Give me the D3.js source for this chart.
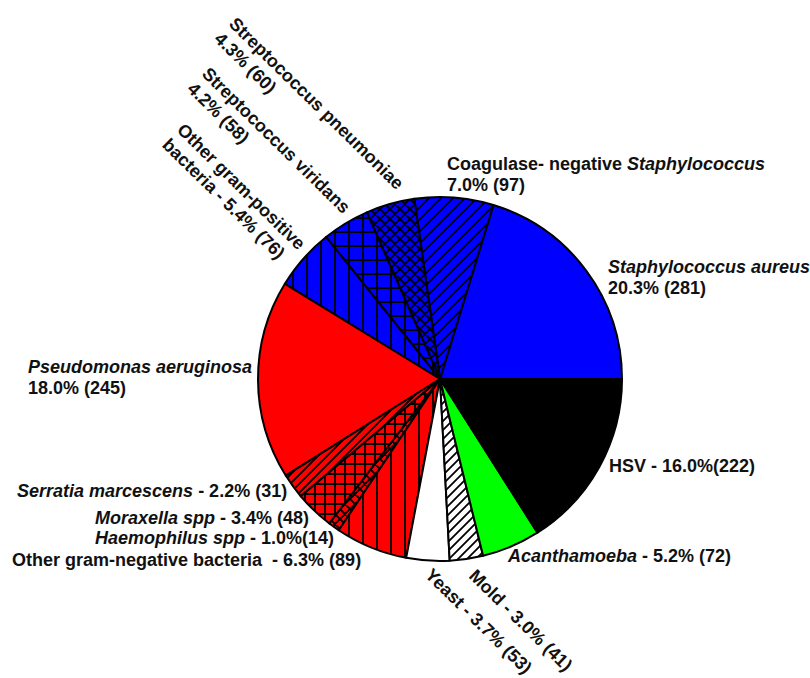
<!DOCTYPE html>
<html>
<head>
<meta charset="utf-8">
<script src="https://cdn.jsdelivr.net/npm/d3@7"></script>
<style>
body { margin: 0; background: #fff; }
#vis { width: 810px; height: 678px; }
text { font-family: "Liberation Sans", Arial, sans-serif; font-weight: bold; font-size: 18px; fill: #111; }
</style>
</head>
<body>
<div id="vis"></div>
<script>
// slices, counter-clockwise from 3 o'clock
var categories = ['Staphylococcus aureus', 'Coagulase-negative Staphylococcus', 'Streptococcus pneumoniae',
    'Streptococcus viridans', 'Other gram-positive bacteria', 'Pseudomonas aeruginosa', 'Serratia marcescens',
    'Moraxella spp', 'Haemophilus spp', 'Other gram-negative bacteria', 'Yeast', 'Mold', 'Acanthamoeba', 'HSV'];
var counts = [281, 97, 60, 58, 76, 245, 31, 48, 14, 89, 53, 41, 72, 222];

// label text, *...* = italic
var labelLines = [
    ['*Staphylococcus aureus*', '20.3% (281)'],
    ['Coagulase- negative *Staphylococcus*', '7.0% (97)'],
    ['Streptococcus pneumoniae', '4.3% (60)'],
    ['Streptococcus viridans', '4.2% (58)'],
    ['Other gram-positive', 'bacteria - 5.4% (76)'],
    ['*Pseudomonas aeruginosa*', '18.0% (245)'],
    ['*Serratia marcescens* - 2.2% (31)'],
    ['*Moraxella spp* - 3.4% (48)'],
    ['*Haemophilus spp* - 1.0%(14)'],
    ['Other gram-negative bacteria  - 6.3% (89)'],
    ['Yeast - 3.7% (53)'],
    ['Mold - 3.0% (41)'],
    ['*Acanthamoeba* - 5.2% (72)'],
    ['HSV - 16.0%(222)']
];

// layout: label anchor [x, y, rotation]
var labelPos = [
    [608, 273, 0], [447, 170, 0], [228, 25, 44.5], [201, 75, 44.5], [176, 131, 44.5],
    [28, 373, 0], [17, 497, 0], [95, 524, 0], [95, 544, 0], [12, 566, 0],
    [424, 576, 44.5], [468, 577, 44.5], [508, 562, 0], [609, 472, 0]
];

// fill styles: [background, hatch]
var fillStyles = [
    ['#0000ff', null], ['#0000ff', 'diag'], ['#0000ff', 'xdiag'], ['#0000ff', 'grid'], ['#0000ff', 'vert'],
    ['#ff0000', null], ['#ff0000', 'diagS'], ['#ff0000', 'gridS'], ['#ff0000', 'xdiag'], ['#ff0000', 'vert'],
    ['#ffffff', null], ['#ffffff', 'diagS'], ['#00ff00', null], ['#000000', null]
];

var width = 810, height = 678;
var cx = 440, cy = 379, radius = 182;

var svg = d3.select('#vis')
    .append('svg')
    .attr('width', width)
    .attr('height', height);

var defs = svg.append('defs');

function hatchPath(kind, s) {
    var diag = 'M-1,1L1,-1M0,' + s + 'L' + s + ',0M' + (s - 1) + ',' + (s + 1) + 'L' + (s + 1) + ',' + (s - 1);
    var back = 'M-1,' + (s - 1) + 'L1,' + (s + 1) + 'M0,0L' + s + ',' + s + 'M' + (s - 1) + ',-1L' + (s + 1) + ',1';
    if (kind === 'diag' || kind === 'diagS') return diag;
    if (kind === 'xdiag') return diag + back;
    if (kind === 'grid' || kind === 'gridS') return 'M' + s / 2 + ',0V' + s + 'M0,' + s / 2 + 'H' + s;
    return 'M' + s / 2 + ',0V' + s;
}
var hatchSize = { diag: 12, diagS: 9, xdiag: 10, grid: 14, gridS: 10, vert: 14 };

fillStyles.forEach(function(f, i) {
    if (!f[1]) return;
    var s = hatchSize[f[1]];
    var p = defs.append('pattern')
        .attr('id', 'pat' + i)
        .attr('patternUnits', 'userSpaceOnUse')
        .attr('width', s)
        .attr('height', s);
    p.append('rect').attr('width', s).attr('height', s).attr('fill', f[0]);
    p.append('path')
        .attr('d', hatchPath(f[1], s))
        .attr('stroke', '#000')
        .attr('stroke-width', 1.8)
        .attr('fill', 'none');
});

var pie = d3.pie()
    .sort(null)
    .value(function(d) { return d; })
    .startAngle(Math.PI / 2)
    .endAngle(Math.PI / 2 - 2 * Math.PI);

var arc = d3.arc()
    .innerRadius(0)
    .outerRadius(radius);

var g = svg.append('g')
    .attr('transform', 'translate(' + cx + ',' + cy + ')');

g.selectAll('.slice')
    .data(pie(counts))
    .enter()
    .append('path')
    .attr('class', 'slice')
    .attr('d', arc)
    .attr('fill', function(d, i) {
        return fillStyles[i][1] ? 'url(#pat' + i + ')' : fillStyles[i][0];
    })
    .attr('stroke', '#000')
    .attr('stroke-width', 2)
    .attr('stroke-linejoin', 'round');

// labels
var labels = svg.selectAll('.label')
    .data(labelLines)
    .enter()
    .append('text')
    .attr('class', 'label')
    .attr('transform', function(d, i) {
        var p = labelPos[i];
        return 'translate(' + p[0] + ',' + p[1] + ')' + (p[2] ? ' rotate(' + p[2] + ')' : '');
    });

labels.each(function(lines) {
    var t = d3.select(this);
    lines.forEach(function(line, li) {
        var parts = line.split('*');
        parts.forEach(function(part, pi) {
            if (!part) return;
            var ts = t.append('tspan')
                .text(part)
                .attr('font-style', pi % 2 ? 'italic' : 'normal')
                .style('white-space', 'pre');
            if (pi === 0 || (pi === 1 && !parts[0])) {
                ts.attr('x', 0).attr('y', li * 21);
            }
        });
    });
});
</script>
</body>
</html>
